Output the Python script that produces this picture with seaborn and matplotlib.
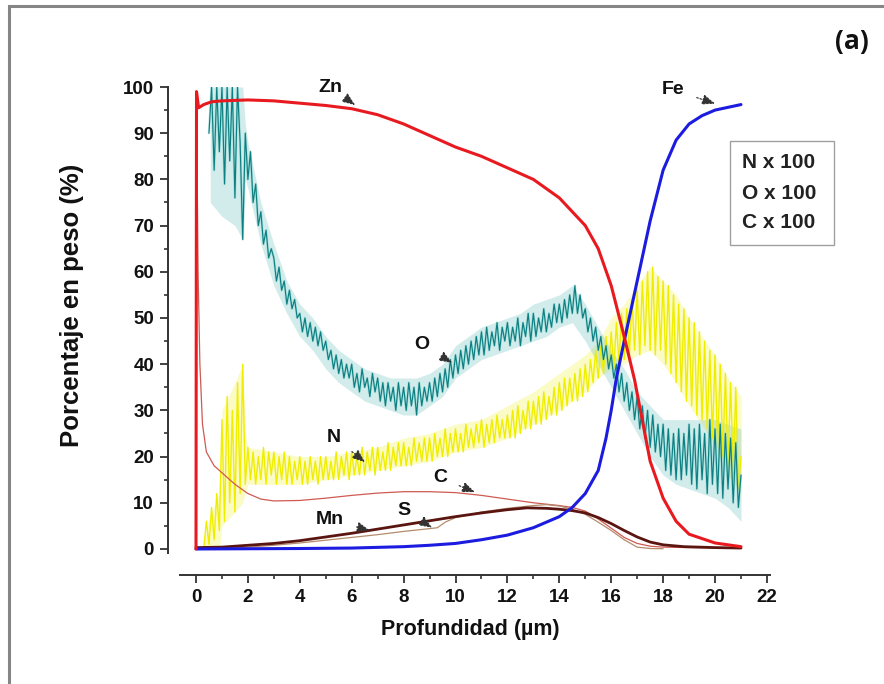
import numpy as np
import matplotlib
matplotlib.use("Agg")
import matplotlib.pyplot as plt
from matplotlib.ticker import MultipleLocator
from matplotlib.patches import Rectangle
import seaborn as sns

# ---------------- data ----------------
zn_x = [0.0, 0.02, 0.1, 0.3, 0.6, 1.0, 2.0, 3.0, 4.0, 5.0, 6.0, 7.0, 8.0, 9.0, 10.0,
        11.0, 12.0, 13.0, 14.0, 14.5, 15.0, 15.5, 16.0, 16.5, 16.9, 17.5, 18.0, 18.5,
        19.0, 20.0, 21.0]
zn_y = [0.0, 99.0, 95.5, 96.2, 96.8, 97.0, 97.2, 97.0, 96.5, 96.0, 95.3, 94.0, 92.0,
        89.5, 87.0, 85.0, 82.5, 80.0, 76.0, 73.0, 70.0, 65.0, 57.0, 46.0, 36.6, 19.0,
        11.0, 6.0, 3.2, 1.3, 0.5]

fe_x = [0.0, 2.0, 4.0, 6.0, 8.0, 9.0, 10.0, 11.0, 12.0, 13.0, 13.5, 14.0, 14.5, 15.0,
        15.5, 15.8, 16.0, 16.2, 16.5, 17.0, 17.5, 18.0, 18.5, 19.0, 19.5, 20.0, 20.5, 21.0]
fe_y = [0.0, 0.05, 0.1, 0.2, 0.5, 0.8, 1.2, 2.0, 3.0, 4.6, 5.8, 7.0, 9.0, 12.0,
        17.0, 24.0, 30.0, 37.0, 45.0, 58.0, 71.0, 82.0, 88.5, 92.0, 93.8, 95.0, 95.6, 96.2]

c_x = [0.0, 0.02, 0.08, 0.15, 0.25, 0.4, 0.7, 1.0, 1.5, 2.0, 2.5, 3.0, 4.0, 5.0, 6.0,
       7.0, 8.0, 9.0, 10.0, 11.0, 12.0, 13.0, 14.0, 14.5, 15.0, 15.5, 16.0, 16.5, 17.0,
       17.5, 18.0, 19.0, 21.0]
c_y = [0.0, 97.0, 60.0, 40.0, 27.0, 21.0, 18.0, 16.5, 14.0, 12.0, 10.8, 10.4, 10.5,
       11.0, 11.6, 12.1, 12.4, 12.4, 12.2, 11.6, 10.8, 10.0, 9.4, 9.0, 8.2, 6.5, 4.5,
       2.5, 1.2, 0.6, 0.4, 0.3, 0.2]

mn_x = [0.0, 1.0, 2.0, 3.0, 4.0, 5.0, 6.0, 7.0, 8.0, 9.0, 10.0, 11.0, 12.0, 12.75,
        13.5, 14.0, 14.5, 15.0, 15.5, 16.0, 16.5, 17.0, 17.5, 18.0, 18.8, 20.0, 21.0]
mn_y = [0.3, 0.4, 0.8, 1.2, 1.8, 2.6, 3.4, 4.3, 5.2, 6.1, 7.0, 7.8, 8.5, 8.9,
        8.8, 8.6, 8.3, 7.8, 6.8, 5.5, 4.0, 2.6, 1.5, 0.9, 0.5, 0.3, 0.2]

s_x = [0.0, 1.0, 2.0, 3.0, 4.0, 5.0, 6.0, 7.0, 8.0, 9.0, 9.3, 9.6, 10.0, 11.0, 12.0,
       13.0, 13.5, 14.0, 14.5, 15.0, 15.5, 16.0, 16.5, 17.0, 17.5, 18.0]
s_y = [0.0, 0.2, 0.4, 0.8, 1.3, 1.9, 2.5, 3.1, 3.8, 4.4, 4.6, 5.8, 6.8, 8.0, 8.8,
       9.4, 9.6, 9.3, 8.6, 7.5, 5.8, 4.0, 2.0, 0.4, 0.1, 0.05]

# O x 100 : sampled every 0.1 um from 0.5 um
o_start, o_step = 0.5, 0.1
o_y = [90, 100, 82, 100, 86,
       100, 79, 100, 84, 100, 76, 100, 88, 67, 90,
       80, 86, 75, 79, 70, 73, 66, 69, 63, 65,
       63, 58, 61, 56, 58, 53, 56, 52, 54, 50,
       51, 47, 50, 46, 49, 45, 48, 44, 47, 43,
       45, 41, 43, 39, 42, 38, 41, 37, 40, 37,
       40, 35, 38, 34, 39, 35, 37, 33, 38, 34,
       37, 32, 36, 31, 36, 32, 35, 30, 36, 31,
       35, 30, 36, 31, 35, 29, 36, 31, 35, 32,
       36, 32, 37, 33, 38, 34, 39, 35, 41, 37,
       42, 38, 43, 39, 44, 40, 45, 41, 46, 42,
       47, 42, 48, 43, 47, 44, 49, 43, 48, 45,
       49, 44, 48, 45, 50, 44, 49, 46, 51, 45,
       51, 46, 50, 47, 52, 47, 51, 48, 53, 49,
       53, 49, 54, 50, 55, 51, 57, 51, 55, 50,
       52, 47, 50, 45, 48, 43, 46, 41, 44, 39,
       42, 37, 40, 34, 38, 32, 36, 30, 34, 28,
       33, 26, 31, 24, 30, 22, 29, 21, 27, 20,
       27, 17, 26, 16, 25, 15, 26, 15, 25, 16,
       27, 14, 26, 13, 27, 15, 25, 12, 28, 14,
       26, 12, 27, 11, 25, 13, 24, 10, 23, 9,
       16]

# O noise band (lower / upper edge)
o_band_x = [0.55, 1.0, 1.5, 1.8, 1.9, 2.0, 2.5, 3.0, 3.5, 4.0, 4.5, 5.0, 5.5, 6.0, 6.5,
            7.0, 7.5, 8.0, 8.5, 9.0, 9.5, 10.0, 10.5, 11.0, 11.5, 12.0, 12.5, 13.0, 13.5,
            14.0, 14.5, 15.0, 15.5, 16.0, 16.5, 17.0, 17.5, 18.0, 18.5, 19.0, 19.5, 20.0,
            20.5, 21.0]
o_band_lo = [75, 72, 70, 67, 80, 78, 66, 57, 51, 46, 43, 39, 36, 34, 32,
             31, 30, 29, 29, 31, 33, 37, 39, 41, 42, 43, 44, 45, 46,
             48, 49, 45, 40, 35, 30, 25, 20, 16, 14, 13, 12, 11,
             9, 6]
o_band_hi = [100, 100, 100, 100, 92, 88, 75, 66, 58, 53, 50, 46, 43, 41, 39,
             38, 37, 37, 37, 38, 40, 44, 46, 48, 49, 50, 51, 53, 54,
             55, 57, 53, 48, 43, 39, 34, 31, 28, 28, 28, 28, 28,
             27, 26]

# N x 100 : sampled every 0.1 um from 0.3 um
n_start, n_step = 0.3, 0.1
n_y = [0, 6, 1, 9, 2, 12, 4,
       28, 6, 33, 10, 30, 8, 36, 12, 40, 14,
       22, 15, 21, 14, 20, 15, 22, 14, 21, 16,
       21, 14, 20, 15, 21, 14, 20, 14, 19, 15,
       20, 14, 19, 14, 20, 15, 19, 14, 20, 15,
       20, 15, 19, 15, 21, 15, 20, 16, 21, 15,
       21, 16, 20, 16, 22, 16, 21, 17, 22, 16,
       22, 17, 21, 17, 23, 17, 22, 18, 23, 18,
       23, 18, 22, 18, 24, 19, 23, 19, 24, 19,
       24, 19, 25, 20, 24, 20, 26, 20, 25, 21,
       26, 21, 25, 21, 27, 22, 26, 22, 27, 23,
       28, 22, 27, 23, 28, 23, 29, 24, 28, 24,
       29, 24, 30, 24, 31, 25, 30, 26, 32, 26,
       32, 27, 33, 27, 34, 28, 33, 29, 35, 29,
       36, 30, 37, 31, 37, 32, 38, 32, 39, 33,
       40, 34, 41, 36, 43, 37, 44, 38, 46, 39,
       47, 39, 49, 40, 51, 41, 52, 42, 54, 43,
       56, 42, 58, 44, 60, 43, 61, 42, 59, 43,
       58, 40, 57, 38, 55, 36, 53, 34, 52, 32,
       50, 31, 49, 29, 47, 28, 45, 26, 43, 24,
       42, 22, 40, 20, 38, 18, 36, 16, 35, 13,
       20]

# N noise band (lower / upper edge)
n_band_x = [0.3, 0.6, 0.9, 1.0, 1.5, 1.8, 1.9, 2.0, 3.0, 4.0, 5.0, 6.0, 7.0, 8.0, 9.0,
            10.0, 11.0, 12.0, 13.0, 14.0, 15.0, 15.5, 16.0, 16.5, 17.0, 17.5, 18.0,
            18.5, 19.0, 19.5, 20.0, 20.5, 21.0]
n_band_lo = [0, 0, 0, 5, 8, 10, 12, 14, 14, 14, 15, 16, 17, 18, 19,
             21, 22, 24, 27, 30, 34, 37, 39, 40, 42, 43, 40,
             36, 31, 27, 22, 16, 12]
n_band_hi = [2, 8, 12, 30, 36, 40, 25, 22, 21, 20, 20, 21, 22, 24, 25,
             27, 28, 31, 34, 38, 42, 45, 50, 53, 57, 61, 58,
             55, 50, 46, 42, 37, 33]

o_x = np.round(o_start + o_step * np.arange(len(o_y)), 3)
n_x = np.round(n_start + n_step * np.arange(len(n_y)), 3)

x_ticks = list(range(0, 23, 2))
y_ticks = list(range(0, 101, 10))

# ---------------- figure ----------------
sns.set_theme(style="ticks")
plt.rcParams["font.family"] = ["Liberation Sans", "DejaVu Sans"]

fig = plt.figure(figsize=(8.84, 6.84), dpi=100)
ax = fig.add_axes([0.2041, 0.1920, 0.6664, 0.6808])

kw = dict(estimator=None, sort=False, ax=ax, legend=False)
ax.fill_between(n_band_x, n_band_lo, n_band_hi, color="#f6f45a", alpha=0.35, lw=0)
sns.lineplot(x=n_x, y=n_y, color="#f0ee00", lw=1.0, **kw)
ax.fill_between(o_band_x, o_band_lo, o_band_hi, color="#5fb9b9", alpha=0.28, lw=0)
sns.lineplot(x=o_x, y=o_y, color="#86d4d4", lw=1.8, alpha=0.5, **kw)
sns.lineplot(x=o_x, y=o_y, color="#0d7f80", lw=0.85, **kw)
sns.lineplot(x=c_x, y=c_y, color="#cf5a52", lw=0.9, **kw)
sns.lineplot(x=s_x, y=s_y, color="#b48c6c", lw=0.9, **kw)
sns.lineplot(x=mn_x, y=mn_y, color="#5a1510", lw=2.0, **kw)
sns.lineplot(x=fe_x, y=fe_y, color="#1c1ce0", lw=2.2, **kw)
sns.lineplot(x=zn_x, y=zn_y, color="#e81a20", lw=2.2, **kw)

ax.set_xlim(-0.6, 22.1)
ax.set_ylim(-0.8, 100)
ax.set_facecolor("white")

sns.despine(ax=ax, offset={"left": 9, "bottom": 16})
for side in ("left", "bottom"):
    ax.spines[side].set_linewidth(1.4)
    ax.spines[side].set_color("#333333")

ax.set_xticks(x_ticks, labels=[str(v) for v in x_ticks], fontweight="bold")
ax.set_yticks(y_ticks, labels=[str(v) for v in y_ticks], fontweight="bold")
ax.xaxis.set_minor_locator(MultipleLocator(1))
ax.yaxis.set_minor_locator(MultipleLocator(5))
ax.tick_params(which="major", direction="out", length=6, width=1.3,
               color="#333333", labelsize=13.5, pad=4, labelcolor="#111111")
ax.tick_params(which="minor", direction="out", length=3, width=1.2, color="#333333")

ax.set_xlabel("Profundidad (µm)", fontsize=15.5, fontweight="bold", color="#111111")
ax.set_ylabel("Porcentaje en peso (%)", fontsize=18.5, fontweight="bold", color="#111111")
ax.xaxis.set_label_coords(0.492, -0.142)
ax.yaxis.set_label_coords(-0.164, 0.53)

# element labels with arrows
arrow_kw = dict(arrowstyle="-|>,head_length=0.55,head_width=0.22", color="#333333",
                lw=0.9, ls=(0, (1.2, 1.5)), shrinkA=7, shrinkB=0)
labels = [("Zn", (5.16, 100.0), (6.13, 96.1)),
          ("Fe", (18.38, 99.4), (20.0, 96.4)),
          ("O", (8.71, 44.2), (9.87, 40.3)),
          ("N", (5.32, 24.2), (6.51, 18.8)),
          ("C", (9.40, 15.4), (10.75, 12.3)),
          ("S", (8.02, 8.4), (9.10, 4.6)),
          ("Mn", (5.16, 6.3), (6.70, 4.0))]
for name, txy, axy in labels:
    ax.annotate(name, xy=axy, xytext=txy, ha="center", va="center",
                fontsize=14, fontweight="bold", color="#111111",
                arrowprops=arrow_kw, annotation_clip=False)

# "x 100" box
fig.patches.append(Rectangle((0.8258, 0.6418), 0.1176, 0.152, transform=fig.transFigure,
                             fill=False, edgecolor="#a0a0a0", lw=1.0))
for txt, yy in [("N x 100", 0.7617), ("O x 100", 0.7178), ("C x 100", 0.6754)]:
    fig.text(0.8394, yy, txt, ha="left", va="center", fontsize=15,
             fontweight="bold", color="#222222")

fig.text(0.9638, 0.9386, "(a)", ha="center", va="center", fontsize=19,
         fontweight="bold", family=["Open Sans", "DejaVu Sans"], color="#111111")

# outer frame
fig.patches.append(Rectangle((0.0102, -0.1), 1.2, 0.9912 + 0.1, transform=fig.transFigure,
                             fill=False, edgecolor="#858585", lw=2.2))

fig.savefig("out.png", dpi=100, facecolor="white")
